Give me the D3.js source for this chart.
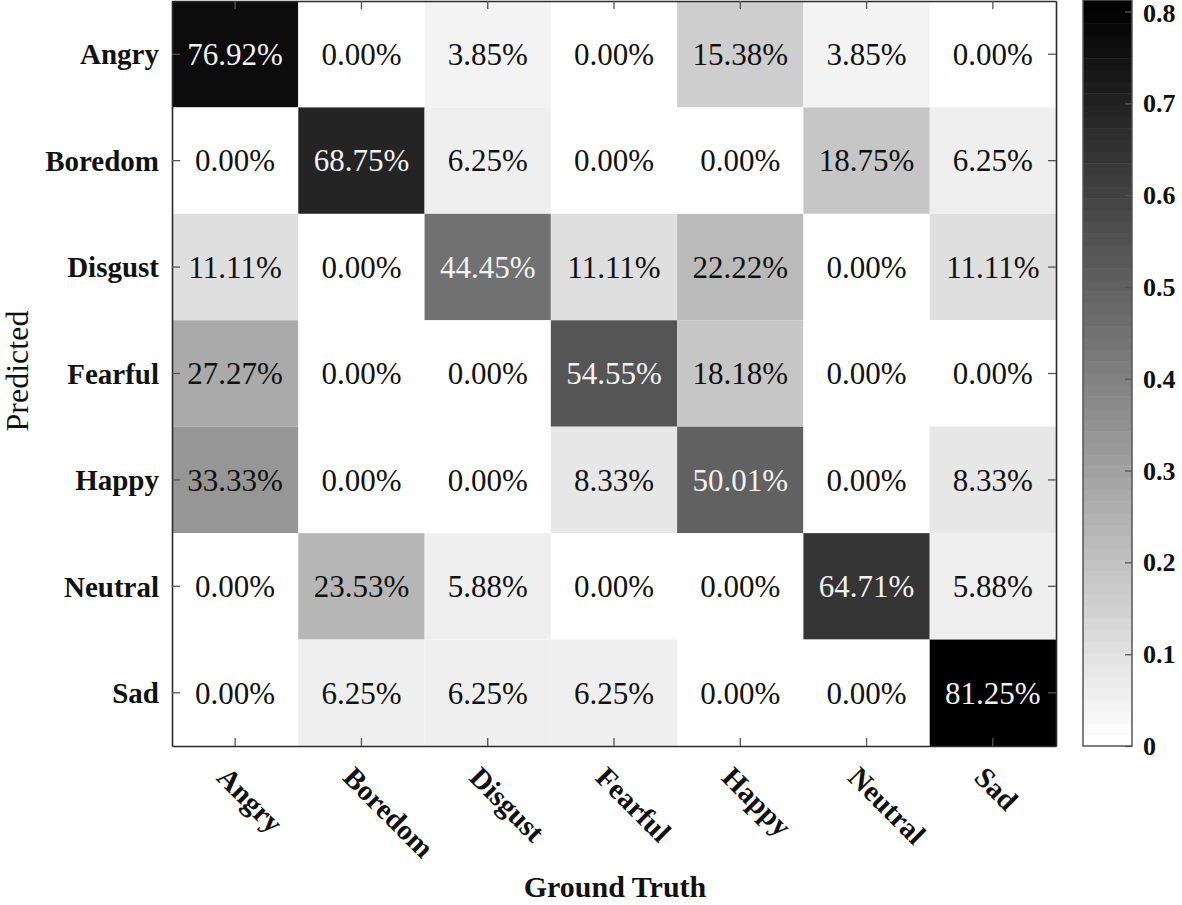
<!DOCTYPE html>
<html>
<head>
<meta charset="utf-8">
<script src="https://cdn.jsdelivr.net/npm/d3@7"></script>
<style>
  html, body { margin: 0; padding: 0; background: #fff; }
  svg { display: block; }
  text { font-family: "Liberation Serif", "Times New Roman", serif; }
</style>
</head>
<body>
<svg id="chart" width="1182" height="905"></svg>
<script>
// ---- data ----
const predictedLabels = ["Angry", "Boredom", "Disgust", "Fearful", "Happy", "Neutral", "Sad"];
const truthLabels = ["Angry", "Boredom", "Disgust", "Fearful", "Happy", "Neutral", "Sad"];
const rowAngry   = [76.92, 0.00, 3.85, 0.00, 15.38, 3.85, 0.00];
const rowBoredom = [0.00, 68.75, 6.25, 0.00, 0.00, 18.75, 6.25];
const rowDisgust = [11.11, 0.00, 44.45, 11.11, 22.22, 0.00, 11.11];
const rowFearful = [27.27, 0.00, 0.00, 54.55, 18.18, 0.00, 0.00];
const rowHappy   = [33.33, 0.00, 0.00, 8.33, 50.01, 0.00, 8.33];
const rowNeutral = [0.00, 23.53, 5.88, 0.00, 0.00, 64.71, 5.88];
const rowSad     = [0.00, 6.25, 6.25, 6.25, 0.00, 0.00, 81.25];
const colorbarTicks = [0, 0.1, 0.2, 0.3, 0.4, 0.5, 0.6, 0.7, 0.8];
const colorMin = 0, colorMax = 0.8125;

const matrix = [rowAngry, rowBoredom, rowDisgust, rowFearful, rowHappy, rowNeutral, rowSad];

// ---- layout ----
const plot = { left: 172, right: 1056, top: 1, bottom: 746 };
const cbar = { left: 1083, right: 1132 };
const axisColor = "#2b2b2b";

const svg = d3.select("#chart");

const x = d3.scaleBand().domain(truthLabels).range([plot.left, plot.right]).padding(0);
const y = d3.scaleBand().domain(predictedLabels).range([plot.top, plot.bottom]).padding(0);

// MATLAB-like flipped gray(64) colormap
const nLevels = 64;
function colorOf(v) {
  let t = (v - colorMin) / (colorMax - colorMin);
  let idx = Math.floor(t * nLevels);
  idx = Math.max(0, Math.min(nLevels - 1, idx));
  const g = Math.round(255 * (1 - idx / (nLevels - 1)));
  return d3.rgb(g, g, g).toString();
}

const cells = [];
matrix.forEach((row, i) => row.forEach((val, j) => {
  cells.push({ pred: predictedLabels[i], truth: truthLabels[j], value: val / 100 });
}));

const g = svg.append("g");
g.selectAll("rect.cell").data(cells).enter().append("rect")
  .attr("class", "cell")
  .attr("x", d => x(d.truth))
  .attr("y", d => y(d.pred))
  .attr("width", x.bandwidth())
  .attr("height", y.bandwidth())
  .attr("fill", d => colorOf(d.value));

g.selectAll("text.cellval").data(cells).enter().append("text")
  .attr("class", "cellval")
  .attr("x", d => x(d.truth) + x.bandwidth() / 2)
  .attr("y", d => y(d.pred) + y.bandwidth() / 2)
  .attr("dy", "0.35em")
  .attr("text-anchor", "middle")
  .attr("font-size", 31)
  .attr("fill", d => d.value > 0.4 ? "#f2f2f2" : "#111")
  .text(d => (d.value * 100).toFixed(2) + "%");

// ---- axes ----
const tickLen = 8;
const xAxisBottom = d3.axisBottom(x).tickSizeInner(-tickLen).tickSizeOuter(0).tickFormat("");
const xAxisTop = d3.axisTop(x).tickSizeInner(-tickLen).tickSizeOuter(0).tickFormat("");
const yAxisLeft = d3.axisLeft(y).tickSizeInner(-tickLen).tickSizeOuter(0).tickFormat("");
const yAxisRight = d3.axisRight(y).tickSizeInner(-tickLen).tickSizeOuter(0).tickFormat("");

function styleAxis(sel) {
  sel.selectAll("path").attr("stroke", axisColor).attr("stroke-width", 1.6);
  sel.selectAll("line").attr("stroke", "#555").attr("stroke-width", 1.3);
}
svg.append("g").attr("transform", `translate(0,${plot.bottom})`).call(xAxisBottom).call(styleAxis);
svg.append("g").attr("transform", `translate(0,${plot.top})`).call(xAxisTop).call(styleAxis);
svg.append("g").attr("transform", `translate(${plot.left},0)`).call(yAxisLeft).call(styleAxis);
svg.append("g").attr("transform", `translate(${plot.right},0)`).call(yAxisRight).call(styleAxis);

// y tick labels
svg.append("g").selectAll("text").data(predictedLabels).enter().append("text")
  .attr("x", 159)
  .attr("y", d => y(d) + y.bandwidth() / 2)
  .attr("dy", "0.35em")
  .attr("text-anchor", "end")
  .attr("font-size", 29)
  .attr("font-weight", "bold")
  .attr("fill", "#111")
  .text(d => d);

// x tick labels (rotated)
svg.append("g").selectAll("text").data(truthLabels).enter().append("text")
  .attr("transform", d => `translate(${x(d) + x.bandwidth() / 2 - 20},779) rotate(45)`)
  .attr("text-anchor", "start")
  .attr("font-size", 29)
  .attr("font-weight", "bold")
  .attr("fill", "#111")
  .text(d => d);

// axis titles
svg.append("text")
  .attr("transform", "translate(28,371) rotate(-90)")
  .attr("text-anchor", "middle")
  .attr("font-size", 32)
  .attr("fill", "#111")
  .text("Predicted");

svg.append("text")
  .attr("x", 615)
  .attr("y", 897)
  .attr("text-anchor", "middle")
  .attr("font-size", 30)
  .attr("font-weight", "bold")
  .attr("fill", "#111")
  .text("Ground Truth");

// ---- colorbar ----
const cy = d3.scaleLinear().domain([colorMin, colorMax]).range([plot.bottom, 0]);
const levels = d3.range(nLevels);
svg.append("g").selectAll("rect").data(levels).enter().append("rect")
  .attr("x", cbar.left)
  .attr("width", cbar.right - cbar.left)
  .attr("y", i => cy(colorMin + (i + 1) * (colorMax - colorMin) / nLevels))
  .attr("height", i => cy(colorMin + i * (colorMax - colorMin) / nLevels) - cy(colorMin + (i + 1) * (colorMax - colorMin) / nLevels) + 0.5)
  .attr("fill", i => { const gv = Math.round(255 * (1 - i / (nLevels - 1))); return d3.rgb(gv, gv, gv).toString(); });

svg.append("rect")
  .attr("x", cbar.left).attr("y", cy(colorMax))
  .attr("width", cbar.right - cbar.left).attr("height", cy(colorMin) - cy(colorMax))
  .attr("fill", "none").attr("stroke", "#555").attr("stroke-width", 1.5);

const cAxis = d3.axisRight(cy).tickValues(colorbarTicks).tickSizeInner(-7).tickSizeOuter(0).tickFormat("");
svg.append("g").attr("transform", `translate(${cbar.right},0)`).call(cAxis)
  .call(sel => { sel.select("path").remove(); sel.selectAll("line").attr("stroke", "#555").attr("stroke-width", 1.3); });

svg.append("g").selectAll("text").data(colorbarTicks).enter().append("text")
  .attr("x", 1143)
  .attr("y", d => cy(d))
  .attr("dy", d => d === 0.8 ? "0.42em" : "0.35em")
  .attr("text-anchor", "start")
  .attr("font-size", 26)
  .attr("font-weight", "bold")
  .attr("fill", "#111")
  .text(d => d === 0 ? "0" : d.toFixed(1));
</script>
</body>
</html>
